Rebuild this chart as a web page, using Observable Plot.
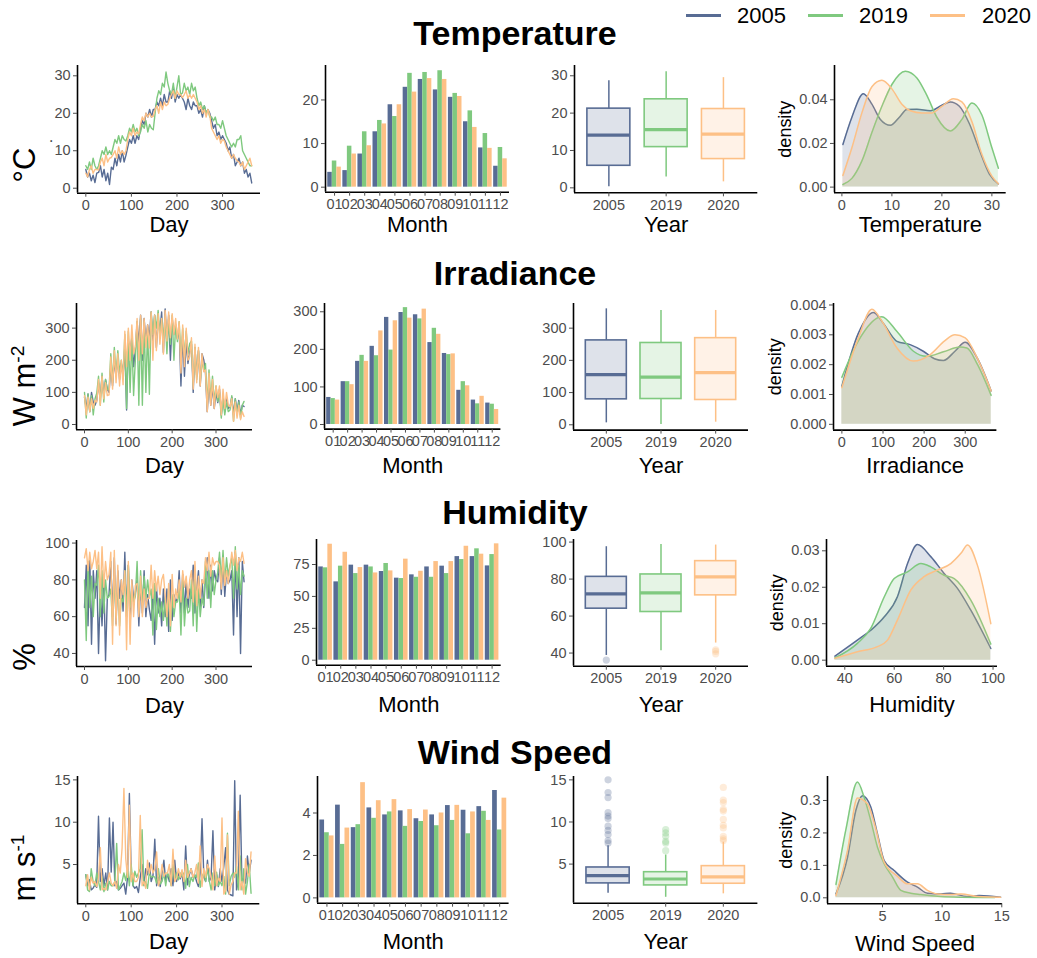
<!DOCTYPE html>
<html><head><meta charset="utf-8">
<script src="https://cdn.jsdelivr.net/npm/d3@7"></script>
<script src="https://cdn.jsdelivr.net/npm/@observablehq/plot@0.6"></script>
<style>
body{margin:0;background:#fff;font-family:"Liberation Sans",Arial,sans-serif;}
#root{position:relative;width:1037px;height:958px;overflow:hidden;background:#fff;}
.pl{position:absolute;}
.title{position:absolute;font-weight:bold;font-size:34px;transform:translate(-50%,-50%);white-space:nowrap;color:#000;}
.unit{position:absolute;font-size:31px;transform:translate(-50%,-50%) rotate(-90deg);white-space:nowrap;color:#000;}
.unit sup{font-size:0.62em;}
.dot{position:absolute;font-size:14px;transform:translate(-50%,-50%) rotate(-90deg);color:#000;}
.lgline{position:absolute;height:3px;width:35px;}
.lgtext{position:absolute;font-size:22px;transform:translateY(-50%);color:#000;}
</style></head><body><div id="root"></div>
<script>
// ---------- categories ----------
const years = ["2005", "2019", "2020"];
const yearColors = ["#586C94", "#7FC97F", "#FDC086"];
const months = ["01","02","03","04","05","06","07","08","09","10","11","12"];
const days = d3.range(0, 365, 4); // sampling days of the daily series (every 4th day)

// ---------- daily series ----------
const tempDay2005 = [5,3,4,2,3.5,1.5,4,4.2, 6,3,5,2,4,1,5.6, 5,8,6,9,7,10,7,8.8, 11,13,12,14,12,14,13, 16,18,17,20,19,21,19,21, 21,23,22,24,22,25,23,23, 26,24,27,23,25,24,25,24, 23,21,24,22,21,23,22, 22,20,21,19,22,20,21,20, 18,16,17,14,15,13,14,13, 12,10,11,8,9,6,7, 8,6,7,4,5,3,4,1.4];
const tempDay2019 = [6,5,7,5,8,6,5,6, 8,10,9,11,9,10,9, 11,13,12,14,12,14,13,12.6, 14,16,15,17,15,16,14, 15,17,16,18,15,17,16,15.6, 20,24,26,25,28,27,31,28, 26,25,28,24,27,30,25,25.4, 28,26,27,25,28,26,27, 24,22,23,21,22,20,21,19, 19,18,19,17,17,16,18,16, 14,13,12,11,12,11,13, 13,14,10,9,8,7,6,6];
const tempDay2020 = [4,3,5,6,4,5,5,4.8, 7,8,6,9,7,8,8.2, 9,10,8,11,9,10,9,10, 13,15,14,16,14,15,14.5, 17,19,18,20,19,20,19,19.2, 21,22,20,23,21,23,22,22.4, 24,25,26,24,26,25,25,24.2, 25,26,24,25,24,25,24, 23,21,22,20,21,19,21,19.4, 16,15,14,13,14,12,13,12.6, 11,10,9,8,9,8,7.3, 7,6,7,5,6,7,8,6];

const irrDay2005 = [85,50,95,40,100,70,60,75, 130,80,150,90,140,110,100, 180,120,200,150,210,140,190,155, 240,45,260,230,270,180,231, 320,250,340,200,330,260,310,270, 350,260,340,240,330,290,350,224, 360,250,340,200,330,280,310,266, 300,120,280,150,260,190,226, 250,100,240,150,230,120,220,202, 160,40,130,60,120,50,100,68, 110,30,90,40,80,50,55, 85,30,80,40,75,30,60,56];
const irrDay2019 = [100,20,95,40,90,30,80,97, 150,60,160,70,140,110,108, 220,130,240,150,230,160,200,142, 280,50,290,100,270,90,201, 320,60,330,60,320,100,300,94, 350,280,340,300,355,270,330,263, 340,220,330,250,340,200,310,258, 320,200,300,210,290,220,252, 260,120,240,140,230,130,200,168, 190,60,170,80,150,70,120,72, 100,20,80,30,70,40,45, 90,10,80,30,70,20,60,72];
const irrDay2020 = [90,30,85,40,80,50,75,70, 140,60,150,80,130,90,92, 210,110,230,130,220,120,200,124, 290,180,300,200,310,220,243, 330,200,340,220,330,240,310,238, 350,200,340,230,345,250,330,219, 355,260,350,270,345,280,330,266, 320,160,310,180,300,200,210, 270,110,250,130,240,120,220,164, 170,40,160,60,140,50,120,84, 120,30,110,50,100,60,55, 80,10,70,20,60,15,40,25];

const humDay2005 = [65,88,55,92,45,85,70,85, 40,75,55,82,36,70,72, 90,60,92,56,85,70,80,63, 95,60,88,55,80,70,73, 80,55,78,62,85,60,72,64, 58,72,45,77,62,70,55,75, 60,75,52,80,58,72,68,70, 85,62,83,62,80,65,75, 70,88,62,75,85,65,80,65, 82,92,70,88,74,85,80,79, 92,72,90,71,85,78,80, 85,50,95,60,92,40,90,79];
const humDay2019 = [80,47,90,65,82,60,78,77, 88,60,85,62,80,70,71, 75,55,82,60,78,55,70,68, 85,60,88,65,75,68,71, 90,62,85,66,82,70,80,71, 75,50,78,53,70,60,68,58, 70,55,75,52,72,60,68,68, 75,50,80,55,70,62,63, 80,55,85,52,75,60,70,66, 90,70,85,65,85,72,80,84, 95,80,96,78,92,82,88, 92,70,98,75,88,72,85,82];
const humDay2020 = [92,97,85,95,86,90,96,86, 95,70,98,76,90,80,83, 95,45,96,55,88,50,80,72, 85,42,90,45,80,60,77, 78,60,82,60,75,65,70,70, 88,70,85,74,82,72,80,83, 72,60,78,55,83,65,75,70, 80,68,85,76,82,70,80, 85,68,90,66,82,70,80,78, 92,85,95,82,92,88,90,90, 88,75,92,77,85,78,87, 95,88,96,85,92,90,95,89];

const windDay2005 = [3.8,2.5,3.2,2.0,2.2,2.6,2.3,10.7, 3.0,4.5,2.5,4.0,2.0,10.5,4.1, 10.0,2.5,3.0,2.0,2.2,2.5,2.8,1.5, 3.5,13.4,4.0,2.5,2.2,2.4,1.7, 3.5,5.0,2.6,4.5,3.8,5.2,3.0,3.7, 8.0,2.5,3.5,2.4,4.0,5.5,3.0,3.9, 3.0,4.5,2.5,5.5,3.0,4.0,3.3,4.0, 2.0,7.2,2.6,3.8,4.5,3.5,3.8, 3.0,2.4,4.0,10.4,3.5,3.0,5.5,3.0, 3.5,9.0,2.0,3.8,2.4,4.5,3.0,4.8, 7.0,2.0,1.5,1.4,1.3,14.9,2.0, 3.0,13.2,2.5,3.5,2.8,6.0,4.0,5.5];
const windDay2019 = [3.8,2.0,1.8,4.5,3.0,2.5,4.0,3.0, 2.0,3.5,1.8,2.8,2.0,3.0,2.5, 2.5,3.0,7.5,2.0,2.5,3.0,4.0,3.1, 4.5,2.5,5.0,2.5,4.2,3.5,4.0, 4.5,9.1,2.5,3.0,2.2,4.0,3.5,3.6, 3.5,2.8,4.5,2.7,3.0,4.0,2.5,4.0, 3.5,2.5,5.0,3.0,4.0,3.2,4.0,3.6, 4.0,2.2,5.0,2.4,3.5,3.0,3.7, 3.5,5.2,2.3,3.6,4.0,3.0,4.5,3.1, 2.0,4.0,2.5,4.1,2.5,3.0,2.5,3.6, 1.5,8.7,2.5,3.6,4.0,3.5,4.8, 2.0,6.0,2.0,4.5,1.5,3.0,5.0,1.6];
const windDay2020 = [2.5,3.8,2.0,3.5,2.8,3.0,2.4,3.4, 7.0,2.0,2.2,2.0,3.0,4.0,2.8, 2.5,3.0,2.2,5.0,4.0,7.0,14.0,5.7, 3.5,12.0,3.0,4.0,3.0,3.0,3.5, 10.8,2.5,3.0,2.2,5.5,4.0,5.0,4.0, 4.5,6.5,2.5,3.2,5.0,3.6,4.0,4.0, 5.0,2.5,6.8,3.0,3.4,4.5,3.5,4.4, 3.0,5.5,3.5,4.0,4.5,3.5,4.0, 5.0,2.8,7.2,2.4,4.5,3.5,5.0,4.5, 3.5,2.0,6.0,2.5,3.4,3.0,10.5,1.5, 2.0,8.5,1.5,2.6,3.0,4.0,4.0, 11.3,2.0,3.0,1.5,5.7,4.0,3.6,6.5];

// ---------- monthly means ----------
const tempMonth2005 = [3.4,3.8,7.6,12.7,18.9,22.9,24.7,22.3,20.6,15.0,9.0,4.8];
const tempMonth2019 = [6.0,9.4,12.7,15.3,16.2,26.1,26.3,26.7,21.5,17.5,12.3,9.1];
const tempMonth2020 = [4.6,7.6,9.5,14.5,18.9,21.8,24.9,24.7,20.8,13.7,8.9,6.5];
const irrMonth2005 = [72,114,168,208,285,298,292,218,189,91,65,57];
const irrMonth2019 = [69,114,184,183,198,311,281,256,186,114,55,54];
const irrMonth2020 = [65,106,168,249,276,283,307,240,188,103,75,40];
const humMonth2005 = [73.1,61.4,74.5,74.5,69.5,64.3,66.9,73.1,73.7,81.2,81.2,73.9];
const humMonth2019 = [72.4,73.7,67.9,73.1,75.8,64.0,65.0,65.0,67.9,78.9,87.3,82.8];
const humMonth2020 = [90.9,84.6,72.6,68.4,70.0,79.2,69.7,77.3,77.3,89.3,83.1,91.2];
const windMonth2005 = [3.67,4.37,3.31,4.24,3.91,4.10,3.73,3.91,4.35,4.13,4.30,5.06];
const windMonth2019 = [3.07,2.52,3.45,3.75,4.05,3.37,3.60,3.40,3.65,3.02,4.08,3.20];
const windMonth2020 = [2.92,3.29,5.43,4.58,4.63,4.16,4.14,4.00,4.36,4.05,3.65,4.70];

// ---------- box plot statistics [2005, 2019, 2020] ----------
const tempBoxLow = [0.3, 2.9, 1.6], tempBoxQ1 = [5.9, 10.9, 7.7], tempBoxMed = [14.1, 15.6, 14.4], tempBoxQ3 = [21.2, 23.7, 21.1], tempBoxHigh = [28.7, 31.1, 29.5];
const irrBoxLow = [6, 1, 8], irrBoxQ1 = [79, 80, 77], irrBoxMed = [156, 148, 162], irrBoxQ3 = [262, 254, 269], irrBoxHigh = [360, 355, 355];
const humBoxLow = [38.7, 41.2, 45.4], humBoxQ1 = [64, 62.2, 71.2], humBoxMed = [72, 72.5, 81.2], humBoxQ3 = [81.2, 82.5, 89.7], humBoxHigh = [97.5, 98.7, 98.4];
const windBoxLow = [1.55, 1.06, 1.47], windBoxQ1 = [2.71, 2.47, 2.67], windBoxMed = [3.63, 3.23, 3.48], windBoxQ3 = [4.6, 4.04, 4.76], windBoxHigh = [7.17, 6.08, 7.6];
const humOut2005 = [36.2], humOut2019 = [], humOut2020 = [41.8, 40.9, 39.6];
const windOut2005 = [15.0, 13.5, 12.9, 11.1, 10.7, 10.4, 9.5, 9.0, 8.5, 7.8, 7.5];
const windOut2019 = [9.1, 8.7, 8.3, 7.7, 7.5, 6.6];
const windOut2020 = [14.1, 12.6, 12.3, 11.5, 11.3, 10.3, 9.6, 9.3, 8.3, 8.0, 7.8];

// ---------- density curves (x, density) ----------
const tempDensX2005 = [0.2,2,4.3,6,7.7,9.7,11.5,13,15,17.7,20,21.7,23.5,25.5,27.5,29.5,31.3];
const tempDensY2005 = [0.0195,0.032,0.0428,0.038,0.031,0.0283,0.032,0.0355,0.0357,0.035,0.0375,0.039,0.037,0.029,0.017,0.006,0.0015];
const tempDensX2019 = [0.2,2,4,6,8,10,12.7,15,17,19,21.7,24,26,28,30,31.3];
const tempDensY2019 = [0.0012,0.004,0.012,0.025,0.037,0.047,0.0531,0.050,0.042,0.032,0.0257,0.031,0.0385,0.033,0.018,0.0086];
const tempDensX2020 = [0.2,2,4,6,8,10,12,13.7,16,18,20,22.3,24,26,28,30,31.3];
const tempDensY2020 = [0.0053,0.018,0.034,0.046,0.0489,0.045,0.038,0.035,0.034,0.034,0.037,0.0405,0.039,0.030,0.015,0.005,0.0015];

const irrDensX2005 = [0,40,77,100,134,166,198,225,247,275,300,330,363];
const irrDensY2005 = [0.00128,0.00305,0.00375,0.0034,0.00278,0.00267,0.00245,0.0022,0.00214,0.00245,0.00275,0.0022,0.00112];
const irrDensX2019 = [0,40,97,134,174,206,247,287,304,330,363];
const irrDensY2019 = [0.00158,0.0028,0.00361,0.00311,0.00245,0.00228,0.00243,0.00259,0.00256,0.0020,0.00097];
const irrDensX2020 = [0,40,73,100,134,174,215,250,275,300,330,363];
const irrDensY2020 = [0.00123,0.00289,0.00386,0.0034,0.00256,0.00212,0.00234,0.0028,0.003,0.0029,0.0022,0.00112];

const humDensX2005 = [36,45.1,50.5,56,61.3,65.4,69.4,74.8,80.2,85.6,91,99.1];
const humDensY2005 = [0.0011,0.0055,0.0082,0.0119,0.0174,0.0265,0.0317,0.0284,0.0238,0.0197,0.0137,0.0032];
const humDensX2019 = [36,45.1,50.5,56,60,65.4,70.8,74.8,80.2,84.3,91,99.1];
const humDensY2019 = [0.0006,0.0046,0.0087,0.0174,0.0224,0.0242,0.0265,0.0256,0.0233,0.0224,0.0165,0.0044];
const humDensX2020 = [36,45.1,53.2,57.3,61.3,66.7,72.1,77.5,82.9,87,89.7,93.7,99.1];
const humDensY2020 = [0.0005,0.0023,0.0037,0.0055,0.011,0.0192,0.0229,0.0247,0.0265,0.0293,0.0316,0.026,0.01];

const windDensX2005 = [1.1,2.07,2.77,3.32,4.02,4.58,5.14,5.98,7.1,7.93,8.77,9.9,10.7,12.1,13.1,14.9];
const windDensY2005 = [0.012,0.125,0.27,0.315,0.28,0.197,0.115,0.084,0.048,0.033,0.014,0.012,0.014,0.004,0.007,0.002];
const windDensX2019 = [1.1,1.93,2.9,3.46,4.02,4.58,5.14,5.84,6.54,7.37,8.2,9.9,11.5,14.4];
const windDensY2019 = [0.041,0.21,0.357,0.31,0.238,0.156,0.105,0.064,0.023,0.014,0.01,0.004,0.002,0.001];
const windDensX2020 = [1.1,2.07,2.9,3.74,4.44,5.14,6.26,7.1,7.93,8.77,9.6,10.7,11.6,13,14.9];
const windDensY2020 = [0.007,0.146,0.308,0.29,0.213,0.11,0.066,0.043,0.043,0.023,0.012,0.01,0.012,0.004,0.002];

// ---------- table builders ----------
const dayTable = (a, b, c) => [a, b, c].flatMap((arr, k) => arr.map((v, i) => ({day: days[i], v, year: years[k]})));
const monthTable = (a, b, c) => months.flatMap((m, mi) => [a, b, c].map((arr, k) => ({m: mi + 1, k, year: years[k], v: arr[mi]})));
const boxTable = (lo, q1, med, q3, hi) => years.map((y, i) => ({year: y, i: i + 1, lo: lo[i], q1: q1[i], med: med[i], q3: q3[i], hi: hi[i]}));
const outTable = (a, b, c) => [a, b, c].flatMap((arr, k) => arr.map(v => ({i: k + 1, v, year: years[k]})));
const densTable = (xs, ys, k) => xs.map((x, i) => ({x, y: ys[i], year: years[k]}));

const root = document.getElementById("root");
const FONT = "'Liberation Sans', Arial, sans-serif";
const ML = 70, MR = 14, MT = 12, MB = 60;

function panel(frame, o) {
  const [L, T, R, B] = frame;
  const marks = [
    ...o.marks,
    Plot.ruleX([o.xDomain[0]], {stroke: "black", strokeWidth: 1.6}),
    Plot.ruleY([o.yDomain[0]], {stroke: "black", strokeWidth: 1.6}),
    Plot.axisX({ticks: o.xTicks, tickFormat: o.xFormat ?? (d => String(d)), tickSize: 4, tickPadding: 3, fontSize: 14.5, color: "#4D4D4D", label: null}),
    Plot.axisY({ticks: o.yTicks, tickFormat: o.yFormat ?? (d => String(d)), tickSize: 4, tickPadding: 3, fontSize: 14.5, color: "#4D4D4D", label: null}),
    Plot.text([o.xTitle], {text: d => d, frameAnchor: "bottom", lineAnchor: "middle", textAnchor: "middle", dy: o.xTitleDy, fontSize: 22, fill: "black"})
  ];
  if (o.yTitle) marks.push(Plot.text([o.yTitle], {text: d => d, frameAnchor: "left", lineAnchor: "middle", textAnchor: "middle", dx: o.yTitleDx, rotate: -90, fontSize: 18, fill: "black"}));
  const chart = Plot.plot({
    width: (R - L) + ML + MR, height: (B - T) + MT + MB,
    marginLeft: ML, marginRight: MR, marginTop: MT, marginBottom: MB,
    x: {domain: o.xDomain},
    y: {domain: o.yDomain},
    color: {domain: years, range: yearColors},
    style: {fontFamily: FONT, background: "transparent", overflow: "visible"},
    marks
  });
  const div = document.createElement("div");
  div.className = "pl";
  div.style.left = (L - ML) + "px";
  div.style.top = (T - MT) + "px";
  div.appendChild(chart);
  root.appendChild(div);
}

function dayPanel(frame, data, yDomain, yTicks, dy) {
  panel(frame, {
    xDomain: [-18.25, 383.25], yDomain, xTicks: [0, 100, 200, 300], yTicks, xTitle: "Day", xTitleDy: dy,
    marks: [Plot.line(data, {x: "day", y: "v", z: "year", stroke: "year", strokeWidth: 1.4})]
  });
}
function barPanel(frame, data, yDomain, yTicks, dy) {
  panel(frame, {
    xDomain: [0.4, 12.6], yDomain, xTicks: d3.range(1, 13), xFormat: d => months[d - 1], yTicks, xTitle: "Month", xTitleDy: dy,
    marks: [Plot.rect(data, {x1: d => d.m - 0.45 + d.k * 0.3, x2: d => d.m - 0.45 + (d.k + 1) * 0.3, y1: 0, y2: "v", fill: "year"})]
  });
}
function boxPanel(frame, boxes, outs, yDomain, yTicks, dy) {
  panel(frame, {
    xDomain: [0.4, 3.6], yDomain, xTicks: [1, 2, 3], xFormat: d => years[d - 1], yTicks, xTitle: "Year", xTitleDy: dy,
    marks: [
      Plot.dot(outs, {x: "i", y: "v", r: 3.6, fill: "year", fillOpacity: 0.3}),
      Plot.ruleX(boxes, {x: "i", y1: "lo", y2: "q1", stroke: "year", strokeWidth: 1.5}),
      Plot.ruleX(boxes, {x: "i", y1: "q3", y2: "hi", stroke: "year", strokeWidth: 1.5}),
      Plot.rect(boxes, {x1: d => d.i - 0.375, x2: d => d.i + 0.375, y1: "q1", y2: "q3", fill: "year", fillOpacity: 0.2, stroke: "year", strokeWidth: 1.6}),
      Plot.ruleY(boxes, {y: "med", x1: d => d.i - 0.375, x2: d => d.i + 0.375, stroke: "year", strokeWidth: 3.2})
    ]
  });
}
function densPanel(frame, tables, xDomain, yDomain, xTicks, yTicks, yFormat, title, dy, dx) {
  const marks = [];
  for (const t of tables) {
    marks.push(Plot.areaY(t, {x: "x", y: "y", fill: "year", fillOpacity: 0.2, curve: "monotone-x"}));
    marks.push(Plot.line(t, {x: "x", y: "y", stroke: "year", strokeWidth: 1.5, curve: "monotone-x"}));
  }
  panel(frame, {xDomain, yDomain, xTicks, yTicks, yFormat: d3.format(yFormat), xTitle: title, xTitleDy: dy, yTitle: "density", yTitleDx: dx, marks});
}

// ---------- Row 1: Temperature ----------
dayPanel([77, 65, 260, 192.7], dayTable(tempDay2005, tempDay2019, tempDay2020), [-1.33, 32.75], [0, 10, 20, 30], 32);
barPanel([325, 65, 509, 191.7], monthTable(tempMonth2005, tempMonth2019, tempMonth2020), [-1.15, 27.9], [0, 10, 20], 33);
boxPanel([574, 65, 757.3, 192.3], boxTable(tempBoxLow, tempBoxQ1, tempBoxMed, tempBoxQ3, tempBoxHigh), [], [-1.33, 32.75], [0, 10, 20, 30], 32);
densPanel([834.3, 65, 1006, 192.3], [densTable(tempDensX2005, tempDensY2005, 0), densTable(tempDensX2019, tempDensY2019, 1), densTable(tempDensX2020, tempDensY2020, 2)],
  [-1.48, 32.86], [-0.0026, 0.0557], [0, 10, 20, 30], [0, 0.02, 0.04], ".2f", "Temperature", 32, -49);

// ---------- Row 2: Irradiance ----------
dayPanel([76, 302.7, 252, 429], dayTable(irrDay2005, irrDay2019, irrDay2020), [-16.5, 376.6], [0, 100, 200, 300], 36);
barPanel([324.3, 302.7, 500.7, 428.3], monthTable(irrMonth2005, irrMonth2019, irrMonth2020), [-12.2, 322], [0, 100, 200, 300], 37);
boxPanel([573.3, 302.7, 748.3, 429.3], boxTable(irrBoxLow, irrBoxQ1, irrBoxMed, irrBoxQ3, irrBoxHigh), [], [-16.5, 376.6], [0, 100, 200, 300], 36);
densPanel([833.3, 302.7, 996.7, 429.3], [densTable(irrDensX2005, irrDensY2005, 0), densTable(irrDensX2019, irrDensY2019, 1), densTable(irrDensX2020, irrDensY2020, 2)],
  [-20.4, 377], [-0.000193, 0.00405], [0, 100, 200, 300], [0, 0.001, 0.002, 0.003, 0.004], ".3f", "Irradiance", 36, -58);

// ---------- Row 3: Humidity ----------
dayPanel([76, 540, 252, 666], dayTable(humDay2005, humDay2019, humDay2020), [32.9, 101.4], [40, 60, 80, 100], 39);
barPanel([316, 539.3, 500.7, 665], monthTable(humMonth2005, humMonth2019, humMonth2020), [-3.9, 94.6], [0, 25, 50, 75], 40);
boxPanel([573.3, 539.3, 748.3, 666], boxTable(humBoxLow, humBoxQ1, humBoxMed, humBoxQ3, humBoxHigh), outTable(humOut2005, humOut2019, humOut2020), [32.9, 101.4], [40, 60, 80, 100], 39);
densPanel([825.7, 539.3, 996.7, 666], [densTable(humDensX2005, humDensY2005, 0), densTable(humDensX2019, humDensY2019, 1), densTable(humDensX2020, humDensY2020, 2)],
  [32.6, 101.8], [-0.00165, 0.0331], [40, 60, 80, 100], [0, 0.01, 0.02, 0.03], ".2f", "Humidity", 39, -49);

// ---------- Row 4: Wind Speed ----------
dayPanel([77, 776, 259.3, 903.3], dayTable(windDay2005, windDay2019, windDay2020), [0.36, 15.4], [5, 10, 15], 38);
barPanel([316.7, 776, 508.3, 902.7], monthTable(windMonth2005, windMonth2019, windMonth2020), [-0.25, 5.72], [0, 2, 4], 39);
boxPanel([573.3, 776, 757.7, 902.7], boxTable(windBoxLow, windBoxQ1, windBoxMed, windBoxQ3, windBoxHigh), outTable(windOut2005, windOut2019, windOut2020), [0.36, 15.4], [5, 10, 15], 39);
densPanel([826.7, 776, 1001.7, 903.3], [densTable(windDensX2005, windDensY2005, 0), densTable(windDensX2019, windDensY2019, 1), densTable(windDensX2020, windDensY2020, 2)],
  [0.39, 15.06], [-0.0185, 0.374], [5, 10, 15], [0, 0.1, 0.2, 0.3], ".1f", "Wind Speed", 40, -41);

// ---------- titles, units, legend ----------
function addHTML(cls, html, x, y) {
  const d = document.createElement("div");
  d.className = cls; d.innerHTML = html;
  d.style.left = x + "px"; d.style.top = y + "px";
  root.appendChild(d);
  return d;
}
const rowTitles = ["Temperature", "Irradiance", "Humidity", "Wind Speed"];
const rowTitleY = [33, 273, 512, 752];
rowTitles.forEach((t, i) => addHTML("title", t, 515, rowTitleY[i]));
const rowUnits = ["°C", "W m<sup>-2</sup>", "%", "m s<sup>-1</sup>"];
const rowUnitY = [165, 386, 657, 868];
rowUnits.forEach((t, i) => addHTML("unit", t, 25, rowUnitY[i]));
addHTML("dot", ".", 47, 141);

const legendLineX = [686, 808, 930];
const legendTextX = [737, 859, 982];
years.forEach((y, i) => {
  const l = addHTML("lgline", "", legendLineX[i], 14);
  l.style.background = yearColors[i];
  addHTML("lgtext", y, legendTextX[i], 16);
});
</script></body></html>
